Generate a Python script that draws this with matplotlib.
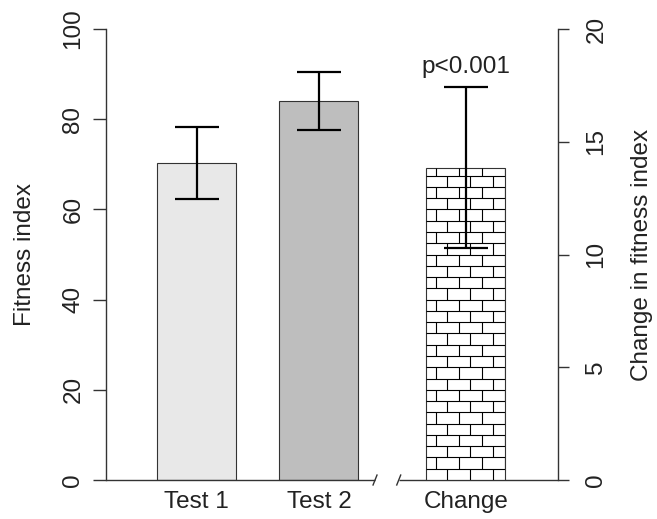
import numpy as np
import matplotlib
matplotlib.use("Agg")
import matplotlib.pyplot as plt

plt.rcParams['font.family'] = ['Liberation Sans', 'DejaVu Sans']

# data
labels = ["Test 1", "Test 2", "Change"]
test_means = [70.3, 84.0]
test_lo = [62.4, 77.5]
test_hi = [78.3, 90.4]
change_mean = 13.85
change_lo = 10.3
change_hi = 17.45
p_text = "p<0.001"

bar_colors = ["#e8e8e8", "#bebebe"]
edge = "#333333"
ink = "#222222"
fs = 17.5

bar_w = 1.0
pos = np.array([0.0, 1.55, 3.41])

fig = plt.figure(figsize=(6.57, 5.19), dpi=100)
ax = fig.add_axes([0.1613, 0.0751, 0.6875, 0.869])
ax2 = ax.twinx()

# left axis bars (Test 1, Test 2)
ax.bar(pos[:2], test_means, width=bar_w, color=bar_colors, edgecolor=edge,
       linewidth=0.8, zorder=2)
yerr = [np.array(test_means) - np.array(test_lo), np.array(test_hi) - np.array(test_means)]
ax.errorbar(pos[:2], test_means, yerr=yerr, fmt='none', ecolor='black',
            elinewidth=1.6, capsize=15.8, capthick=1.6, zorder=3)

# right axis bar (Change) with brick pattern
bars = ax2.bar([pos[2]], [change_mean], width=bar_w, color='white', edgecolor=edge,
               linewidth=0.8, zorder=2)
patch = bars[0]
row_h = 0.5
brick_w = 0.291
x0 = pos[2] - bar_w / 2
x1 = pos[2] + bar_w / 2
rows = np.arange(0, change_mean, row_h)
h = ax2.hlines(rows, x0, x1, colors='black', linewidth=0.8, zorder=2.5)
h.set_clip_path(patch)
for i, r in enumerate(rows):
    start = 0.26 if i % 2 == 0 else 0.118
    xs = x0 + start + np.arange(0, bar_w, brick_w)
    xs = xs[xs < x1]
    v = ax2.vlines(xs, r, min(r + row_h, change_mean), colors='black',
                   linewidth=0.8, zorder=2.5)
    v.set_clip_path(patch)

ax2.errorbar([pos[2]], [change_mean],
             yerr=[[change_mean - change_lo], [change_hi - change_mean]],
             fmt='none', ecolor='black', elinewidth=1.6, capsize=15.8,
             capthick=1.6, zorder=3)
ax2.annotate(p_text, (pos[2], change_hi), xytext=(0, 6), textcoords='offset points',
             ha='center', va='bottom', fontsize=fs, color=ink)

# limits
ax.set_xlim(-1.146, 4.572)
ax.set_ylim(0, 100)
ax2.set_ylim(0, 20)

# spines and ticks
for a in (ax, ax2):
    for s in ('top', 'bottom'):
        a.spines[s].set_visible(False)
    a.spines['left'].set_color(edge)
    a.spines['right'].set_color(edge)
    a.spines['left'].set_linewidth(1.0)
    a.spines['right'].set_linewidth(1.0)
ax.spines['right'].set_visible(False)
ax2.spines['left'].set_visible(False)

ax.set_yticks(np.arange(0, 101, 20))
ax2.set_yticks(np.arange(0, 21, 5))
ax.tick_params(axis='y', length=9.5, width=1.0, color=edge, labelsize=fs,
               labelcolor=ink, pad=6, labelrotation=90)
ax2.tick_params(axis='y', length=8, width=1.0, color=edge, labelsize=fs,
                labelcolor=ink, pad=12, labelrotation=90)
for t in ax.get_yticklabels():
    t.set_va('center')
for t in ax2.get_yticklabels():
    t.set_va('center')

ax.set_xticks(pos)
ax.set_xticklabels(labels, fontsize=fs, color=ink)
ax.tick_params(axis='x', length=0, pad=8)

ax.set_ylabel("Fitness index", fontsize=fs, color=ink, labelpad=19)
ax2.set_ylabel("Change in fitness index", fontsize=fs, color=ink, labelpad=17,
               rotation=90)

# baseline with axis break
brk_a, brk_b = 2.26, 2.56
ax.hlines(0, ax.get_xlim()[0], brk_a, colors=edge, linewidth=1.0, clip_on=False, zorder=4)
ax.hlines(0, brk_b, ax.get_xlim()[1], colors=edge, linewidth=1.0, clip_on=False, zorder=4)
for bx in (brk_a, brk_b):
    ax.plot([bx - 0.025, bx + 0.025], [-1.1, 1.1], color=edge, linewidth=1.0,
            clip_on=False, zorder=4)

fig.savefig("out.png", dpi=100)
